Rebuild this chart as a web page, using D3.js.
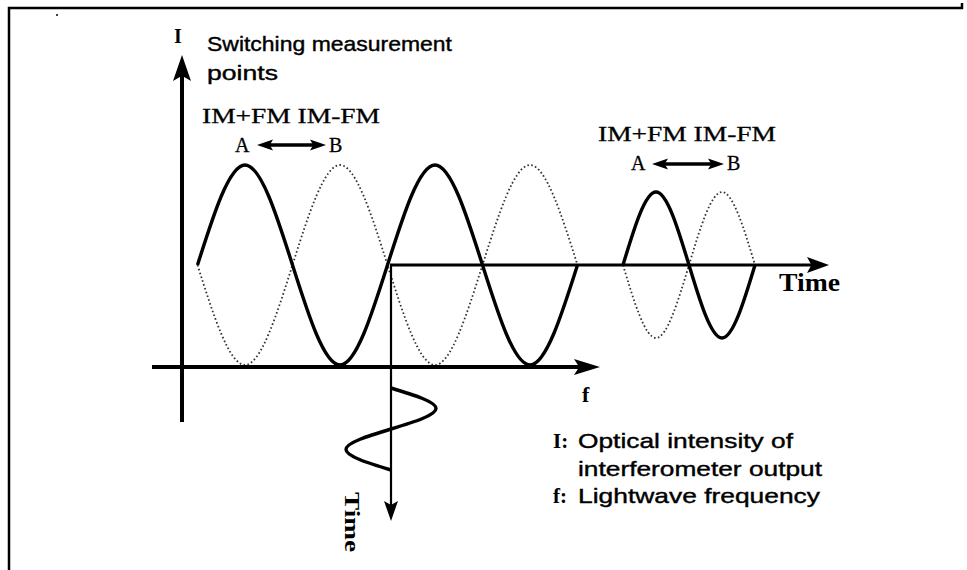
<!DOCTYPE html>
<html>
<head>
<meta charset="utf-8">
<script src="https://cdn.jsdelivr.net/npm/d3@7"></script>
<style>
  body { margin: 0; background: #fff; }
  svg { display: block; }
</style>
</head>
<body>
<script>
// wave levels at quarter-period steps (1 = full swing)
var bigSolid    = [0, 1, 0, -1, 0, 1, 0, -1, 0];     // IM+FM
var bigDotted   = [0, -1, 0, 1, 0, -1, 0, 1, 0];     // IM-FM
var smallSolid  = [0, 0.73, 0, -0.73, 0];
var smallDotted = [0, -0.73, 0, 0.73, 0];
var freqSwing   = [0, 1, 0, -1, 0];                  // lightwave frequency vs time

var titleLines = ["Switching measurement", "points"];
var pairLabels = ["IM+FM IM-FM", "A", "B"];
var axisNames  = ["I", "f", "Time"];
var legendKeys = ["I:", "f:"];
var legendText = ["Optical intensity of", "interferometer output", "Lightwave frequency"];

var width = 967, height = 570;
var svg = d3.select("body").append("svg").attr("width", width).attr("height", height);

var serif = "'Liberation Serif', 'Times New Roman', serif";
var sans = "'Liberation Sans', Arial, sans-serif";

// scales
var y = d3.scaleLinear().domain([-1, 1]).range([365, 165]);
var xBig = d3.scaleLinear().domain([0, bigSolid.length - 1]).range([197.5, 577.5]);
var xSmall = d3.scaleLinear().domain([0, smallSolid.length - 1]).range([623, 755]);
var tScale = d3.scaleLinear().domain([0, freqSwing.length - 1]).range([388, 470]);
var fScale = d3.scaleLinear().domain([-1, 1]).range([346, 436]);

// frame
svg.append("path")
    .attr("d", "M9,570 L9,8 L962,8 L962,3")
    .attr("fill", "none").attr("stroke", "#000").attr("stroke-width", 2.5);
svg.append("circle").attr("cx", 57).attr("cy", 15).attr("r", 1).attr("fill", "#000");

function wave(xs, data) {
    return d3.line()
        .x(function(d, i) { return xs(i); })
        .y(function(d) { return y(d); })
        .curve(d3.curveNatural)(data);
}

function arrowHead(x, yy, angle, len, half) {
    svg.append("path")
        .attr("d", "M0,0 L" + (-len) + "," + (-half) + " L" + (-len * 0.8) + ",0 L" + (-len) + "," + half + " Z")
        .attr("transform", "translate(" + x + "," + yy + ") rotate(" + angle + ")")
        .attr("fill", "#000");
}

function seg(x1, y1, x2, y2, w) {
    svg.append("line").attr("x1", x1).attr("y1", y1).attr("x2", x2).attr("y2", y2)
        .attr("stroke", "#000").attr("stroke-width", w);
}

// dotted waves (IM-FM)
[[xBig, bigDotted], [xSmall, smallDotted]].forEach(function(p) {
    svg.append("path").attr("d", wave(p[0], p[1]))
        .attr("fill", "none").attr("stroke", "#333")
        .attr("stroke-width", 1.8).attr("stroke-dasharray", "1.6,2.4");
});

// axes
seg(182, 422, 182, 70, 4);          // I
arrowHead(182, 55, -90, 26, 9);
seg(152, 367, 585, 367, 4);         // f
arrowHead(600, 367, 0, 26, 8);
seg(390, 265, 815, 265, 3);         // time (horizontal)
arrowHead(829, 265, 0, 22, 8);
seg(391, 265, 391, 505, 2.2);       // time (vertical)
arrowHead(391, 521, 90, 20, 7);

// solid waves (IM+FM)
[[xBig, bigSolid], [xSmall, smallSolid]].forEach(function(p) {
    svg.append("path").attr("d", wave(p[0], p[1]))
        .attr("fill", "none").attr("stroke", "#000").attr("stroke-width", 3.4);
});

// frequency swing drawn along the vertical time axis
svg.append("path")
    .attr("d", d3.line()
        .x(function(d) { return fScale(d); })
        .y(function(d, i) { return tScale(i); })
        .curve(d3.curveNatural)(freqSwing))
    .attr("fill", "none").attr("stroke", "#000").attr("stroke-width", 3.4);

function label(text, x, yy, font, size, opts) {
    opts = opts || {};
    var t = svg.append("text").text(text)
        .attr("x", x).attr("y", yy)
        .attr("font-family", font).attr("font-size", size)
        .attr("font-weight", opts.bold ? "bold" : "normal")
        .attr("fill", "#000");
    if (opts.w) t.attr("textLength", opts.w).attr("lengthAdjust", "spacingAndGlyphs");
    if (opts.anchor) t.attr("text-anchor", opts.anchor);
    if (opts.stroke) t.attr("stroke", "#000").attr("stroke-width", opts.stroke);
    if (opts.transform) t.attr("transform", opts.transform);
    return t;
}

// axis names
label(axisNames[0], 178, 43, serif, 20, { bold: true, anchor: "middle" });
label(axisNames[1], 582, 402, serif, 22, { bold: true });
label(axisNames[2], 779, 291, serif, 25, { bold: true, w: 61 });
label(axisNames[2], 0, 0, serif, 21, { bold: true, w: 60, transform: "translate(345,492) rotate(90)" });

// title
label(titleLines[0], 207, 51, sans, 21, { w: 245, stroke: 0.4 });
label(titleLines[1], 207, 80, sans, 21, { w: 71, stroke: 0.4 });

// switching pairs
function pair(x0, base, arrowY, ax1, ax2, bx) {
    label(pairLabels[0], x0, base, serif, 22, { w: 178, stroke: 0.3 });
    label(pairLabels[1], x0 + 33, base + 29, serif, 20, { stroke: 0.3 });
    label(pairLabels[2], bx, base + 29, serif, 20, { stroke: 0.3 });
    seg(ax1 + 10, arrowY, ax2 - 10, arrowY, 3.5);
    arrowHead(ax1, arrowY, 180, 16, 5.5);
    arrowHead(ax2, arrowY, 0, 16, 5.5);
}
pair(202, 123, 145, 257, 326, 329);
pair(598, 141, 164, 652, 724, 727);

// legend
label(legendKeys[0], 553, 448, serif, 21, { bold: true });
label(legendText[0], 578, 448, sans, 21, { w: 215, stroke: 0.4 });
label(legendText[1], 578, 476, sans, 21, { w: 244, stroke: 0.4 });
label(legendKeys[1], 553, 503, serif, 21, { bold: true });
label(legendText[2], 578, 503, sans, 21, { w: 242, stroke: 0.4 });
</script>
</body>
</html>
